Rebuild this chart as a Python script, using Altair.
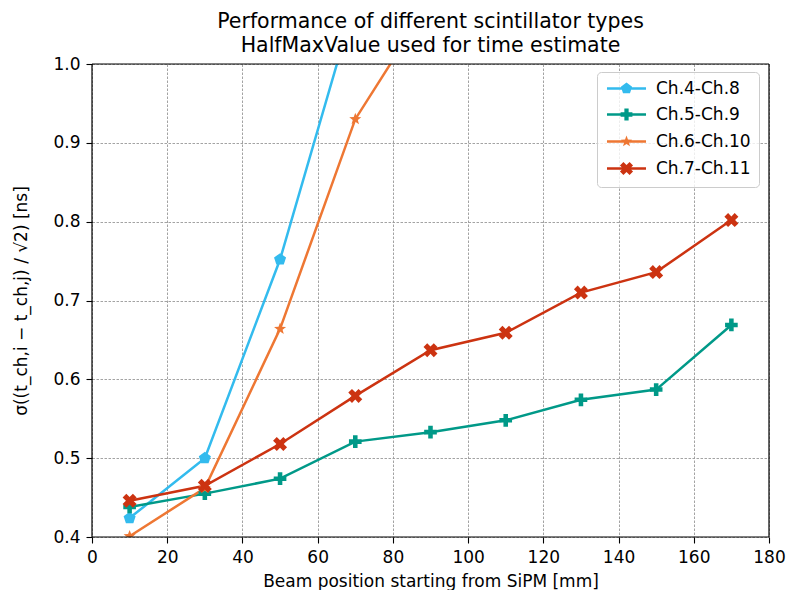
import math
import altair as alt
import pandas as pd

# ---- data ----
series_names = ["Ch.4-Ch.8", "Ch.5-Ch.9", "Ch.6-Ch.10", "Ch.7-Ch.11"]
colors = ["#33bbee", "#009988", "#ee7733", "#cc3311"]

x_48 = [10, 30, 50, 70]
y_48 = [0.424, 0.500, 0.752, 1.08]

x_59 = [10, 30, 50, 70, 90, 110, 130, 150, 170]
y_59 = [0.438, 0.455, 0.474, 0.521, 0.533, 0.548, 0.574, 0.587, 0.669]

x_610 = [10, 30, 50, 70, 90]
y_610 = [0.401, 0.462, 0.664, 0.930, 1.08]

x_711 = [10, 30, 50, 70, 90, 110, 130, 150, 170]
y_711 = [0.446, 0.465, 0.518, 0.579, 0.637, 0.659, 0.710, 0.736, 0.802]

x_ticks = [0, 20, 40, 60, 80, 100, 120, 140, 160, 180]
y_ticks = [0.4, 0.5, 0.6, 0.7, 0.8, 0.9, 1.0]
x_range = [0, 180]
y_range = [0.4, 1.0]

rows = []
for name, xs, ys in zip(series_names, [x_48, x_59, x_610, x_711], [y_48, y_59, y_610, y_711]):
    for i, (xv, yv) in enumerate(zip(xs, ys)):
        rows.append({"series": name, "x": xv, "y": yv, "order": i})
df = pd.DataFrame(rows)


# ---- marker shapes (SVG paths in unit coords) ----
def poly(pts):
    return "M" + " L".join(f"{px:.3f},{py:.3f}" for px, py in pts) + " Z"


def pentagon():
    return [(math.cos(math.radians(-90 + 72 * k)), math.sin(math.radians(-90 + 72 * k))) for k in range(5)]


def star():
    pts = []
    for k in range(10):
        r = 1.0 if k % 2 == 0 else 0.42
        a = math.radians(-90 + 36 * k)
        pts.append((r * math.cos(a), r * math.sin(a)))
    return pts


def plus(t=0.36):
    return [(-t, -1), (t, -1), (t, -t), (1, -t), (1, t), (t, t), (t, 1), (-t, 1),
            (-t, t), (-1, t), (-1, -t), (-t, -t)]


def xshape(t=0.36):
    s = 1 / math.sqrt(2) * 1.15
    return [((px - py) * s, (px + py) * s) for px, py in plus(t)]


marker_paths = [poly(pentagon()), poly(plus()), poly(star()), poly(xshape())]
line_rect = "M-3.3,-0.2 L3.3,-0.2 L3.3,0.2 L-3.3,0.2 Z"
legend_paths = [line_rect + " " + p for p in marker_paths]

color_scale = alt.Scale(domain=series_names, range=colors)
xs_scale = alt.Scale(domain=x_range, nice=False)
ys_scale = alt.Scale(domain=y_range, nice=False, zero=False)

x_enc = alt.X("x:Q", scale=xs_scale,
              axis=alt.Axis(values=x_ticks, labelFlush=False,
                            title="Beam position starting from SiPM [mm]"))
y_enc = alt.Y("y:Q", scale=ys_scale,
              axis=alt.Axis(values=y_ticks, format=".1f", labelFlush=False,
                            title="σ((t_ch,i − t_ch,j) / √2) [ns]"))

base = alt.Chart(df)

lines = base.mark_line(strokeWidth=2.5, clip=True).encode(
    x=x_enc, y=y_enc,
    color=alt.Color("series:N", scale=color_scale, legend=None),
    order="order:Q",
    detail="series:N",
)

points = base.mark_point(filled=True, opacity=1, size=160, clip=True).encode(
    x=x_enc, y=y_enc,
    color=alt.Color("series:N", scale=color_scale, legend=None),
    shape=alt.Shape("series:N", scale=alt.Scale(domain=series_names, range=marker_paths), legend=None),
)

legend_kw = dict(title=None, orient="none", legendX=505, legendY=8,
                 symbolSize=140, symbolOpacity=1,
                 symbolOffset=13, labelOffset=21,
                 labelFontSize=17, labelFont="DejaVu Sans",
                 labelColor="black",
                 rowPadding=8, padding=8,
                 fillColor="rgba(255,255,255,0.8)",
                 strokeColor="#cccccc", cornerRadius=4)

legend_layer = base.mark_point(filled=True, opacity=0, size=150, clip=True).encode(
    x=x_enc, y=y_enc,
    color=alt.Color("series:N", scale=color_scale, legend=alt.Legend(**legend_kw)),
    shape=alt.Shape("series:N", scale=alt.Scale(domain=series_names, range=legend_paths),
                    legend=alt.Legend(**legend_kw)),
)

frame_df = pd.DataFrame({"x": [x_range[0]]})
frame_base = alt.Chart(frame_df).mark_rule(color="black", strokeWidth=1.2)
frame = alt.layer(
    frame_base.encode(x=alt.datum(x_range[0], scale=xs_scale)),
    frame_base.encode(x=alt.datum(x_range[1], scale=xs_scale)),
    frame_base.encode(y=alt.datum(y_range[0], scale=ys_scale)),
    frame_base.encode(y=alt.datum(y_range[1], scale=ys_scale)),
)

chart = alt.layer(lines, points, legend_layer, frame).resolve_scale(
    color="independent", shape="independent"
).properties(
    width=677, height=473,
    title=alt.Title(["Performance of different scintillator types",
                     "HalfMaxValue used for time estimate"],
                    font="DejaVu Sans", fontSize=20.5, fontWeight="normal",
                    color="black", anchor="middle", offset=-1, lineHeight=24),
    padding={"left": 92, "top": 64, "right": 18, "bottom": 53},
    autosize=alt.AutoSizeParams(type="none"),
).configure_view(
    stroke=None
).configure_axis(
    labelFont="DejaVu Sans", labelFontSize=17, labelColor="black",
    titleFont="DejaVu Sans", titleFontSize=17, titleFontWeight="normal", titleColor="black",
    domain=False, tickColor="black", tickSize=6, tickWidth=1.1,
    grid=True, gridColor="#999999", gridDash=[2.5, 1.5], gridWidth=0.9,
    labelPadding=6,
).configure_axisX(
    titlePadding=8
).configure_axisY(
    titlePadding=22
)

chart.save("out.html", embed_options={"renderer": "svg", "actions": False})
